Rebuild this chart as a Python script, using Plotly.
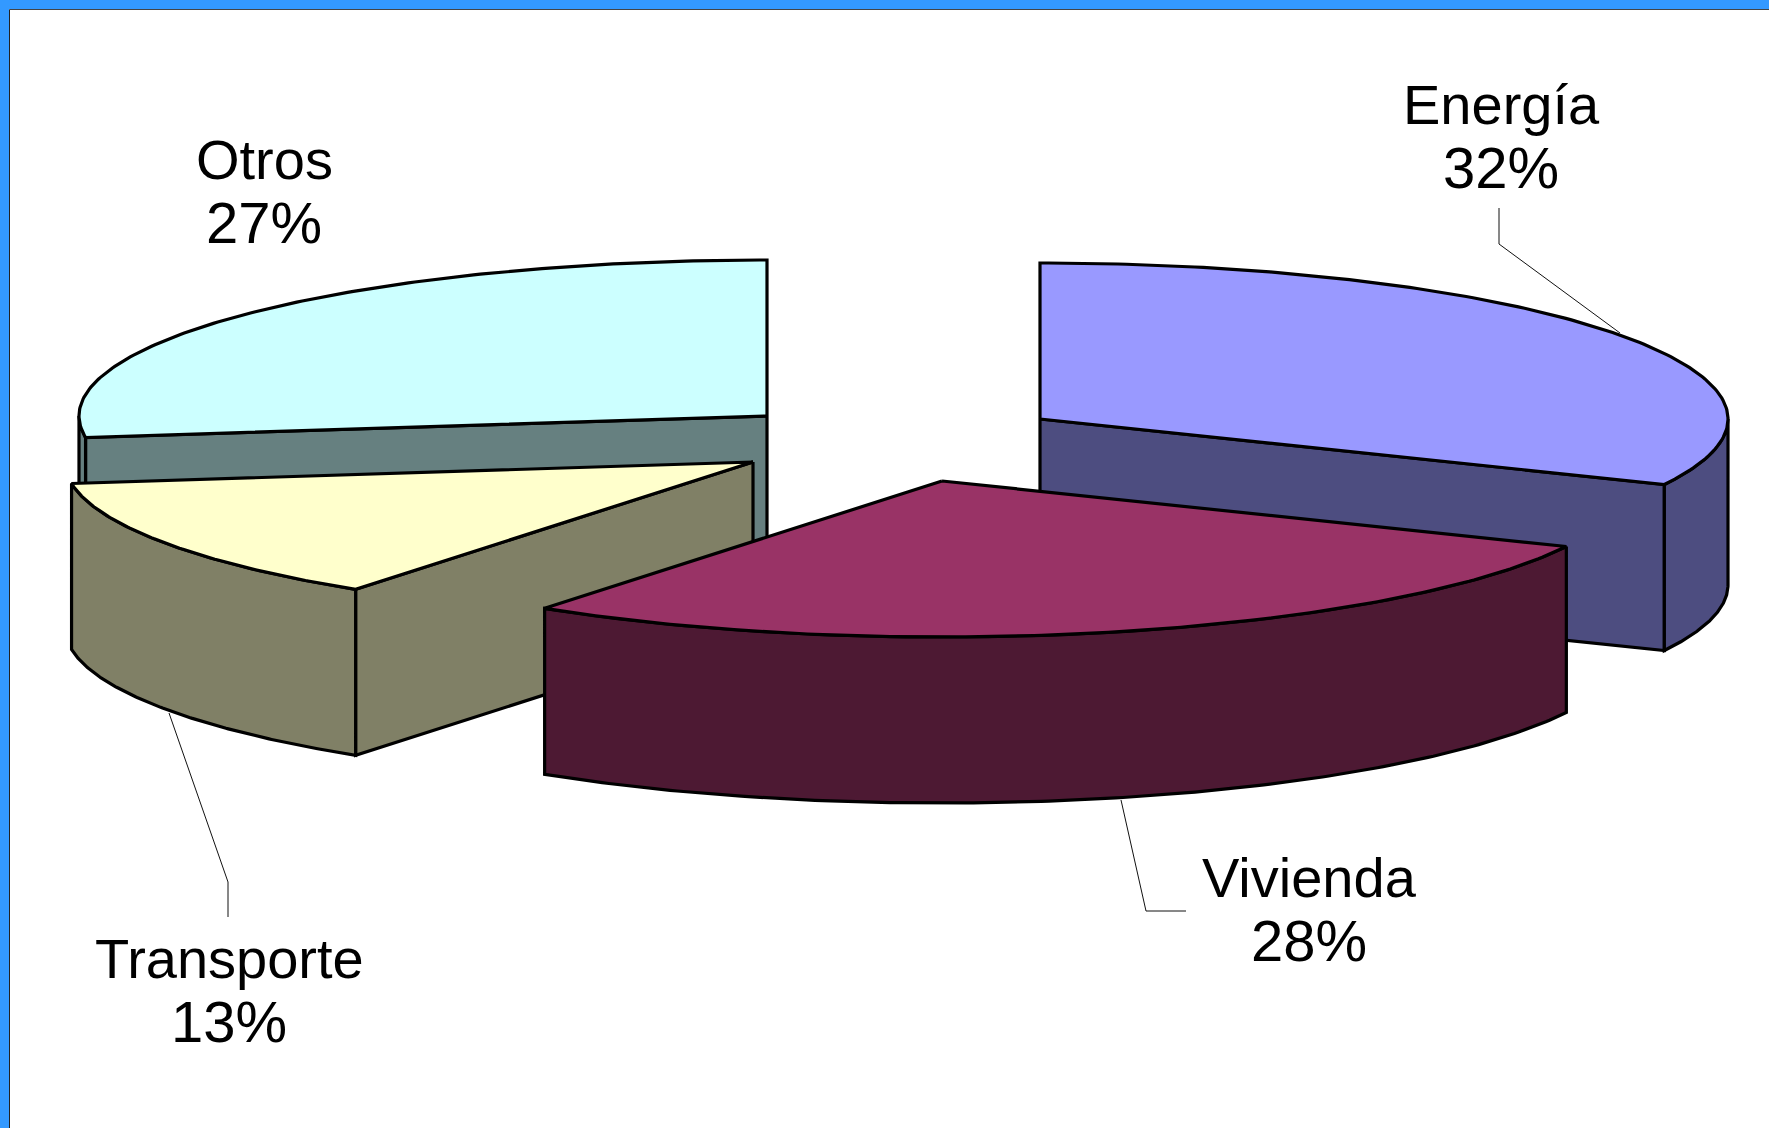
import numpy as np
import plotly.graph_objects as go

# ---- data ----
categories = ["Energía", "Vivienda", "Transporte", "Otros"]
shares = [31.9, 27.9, 13.0, 27.2]
top_colors = ["#9999FF", "#993366", "#FFFFCC", "#CCFFFF"]
side_colors = ["#4D4D80", "#4D1933", "#808066", "#668080"]

# ---- projection of the tilted, exploded pie (pixels of the page) ----
W, H = 1769, 1128
RX, RY, DEPTH = 688, 156, 166
apex_x = [1040, 942, 753, 767]
apex_y = [419, 481, 462, 416]
label_x = [1501, 1309, 229, 264]
label_base = [124, 897, 978, 179]
label_step = 64
leaders = [
    ([1499, 1499, 1620], [208, 244, 333]),
    ([1121, 1146, 1186], [800, 911, 911]),
    ([169, 228, 228], [713, 882, 917]),
]
OUT = 3.2


def arc(cx, cy, a0, a1, n=160):
    t = np.radians(np.linspace(a0, a1, n))
    return cx + RX * np.sin(t), cy - RY * np.cos(t)


fig = go.Figure()


def poly(xs, ys, color, width=OUT):
    fig.add_trace(go.Scatter(
        x=list(xs), y=list(ys), mode="lines", fill="toself", fillcolor=color,
        line=dict(color="black", width=width), hoverinfo="skip", showlegend=False,
    ))


edges = np.concatenate([[0], np.cumsum(shares)]) / np.sum(shares) * 360
# index of the slice edge whose cut wall faces the viewer (None: hidden)
wall_edge = [1, None, 0, 0]
order = [0, 3, 2, 1]  # back to front
for i in order:
    a0, a1 = edges[i], edges[i + 1]
    cx, cy = apex_x[i], apex_y[i]
    if wall_edge[i] is not None:
        ang = (a0, a1)[wall_edge[i]]
        ex, ey = arc(cx, cy, ang, ang, 1)
        poly([cx, ex[0], ex[0], cx, cx],
             [cy, ey[0], ey[0] + DEPTH, cy + DEPTH, cy], side_colors[i])
    # curved rim: only the part between 90 and 270 degrees is visible
    v0, v1 = max(a0, 90), min(a1, 270)
    if v1 > v0:
        rx_, ry_ = arc(cx, cy, v0, v1)
        poly(np.concatenate([rx_, rx_[::-1], rx_[:1]]),
             np.concatenate([ry_, ry_[::-1] + DEPTH, ry_[:1]]), side_colors[i])
    # top face
    tx, ty = arc(cx, cy, a0, a1)
    poly(np.concatenate([[cx], tx, [cx]]), np.concatenate([[cy], ty, [cy]]), top_colors[i])

for lx, ly in leaders:
    fig.add_trace(go.Scatter(x=lx, y=ly, mode="lines", line=dict(color="#111111", width=1),
                             hoverinfo="skip", showlegend=False))

annotations = []
for name, share, x, base in zip(categories, shares, label_x, label_base):
    for k, (txt, size) in enumerate([(name, 56), (f"{round(share)}%", 58)]):
        annotations.append(dict(
            x=x, y=base + k * label_step, xref="x", yref="y", text=txt, showarrow=False,
            xanchor="center", yanchor="bottom", yshift=-14,
            font=dict(family="Liberation Sans", size=size, color="black"),
        ))

shapes = [
    dict(type="rect", x0=0, x1=W, y0=0, y1=9, fillcolor="#3399FF", line_width=0, layer="above"),
    dict(type="rect", x0=0, x1=9, y0=0, y1=H, fillcolor="#3399FF", line_width=0, layer="above"),
    dict(type="line", x0=9.5, x1=W, y0=9.5, y1=9.5, line=dict(color="#444444", width=1), layer="above"),
    dict(type="line", x0=9.5, x1=9.5, y0=9.5, y1=H, line=dict(color="#222222", width=1), layer="above"),
]

fig.update_layout(
    width=W, height=H, margin=dict(l=0, r=0, t=0, b=0),
    paper_bgcolor="white", plot_bgcolor="white", showlegend=False,
    xaxis=dict(range=[0, W], visible=False, fixedrange=True),
    yaxis=dict(range=[H, 0], visible=False, fixedrange=True),
    annotations=annotations, shapes=shapes,
)
fig.write_html("out.html", config={"displayModeBar": False},
               post_script="document.body.style.margin='0';document.body.style.overflow='hidden';")
